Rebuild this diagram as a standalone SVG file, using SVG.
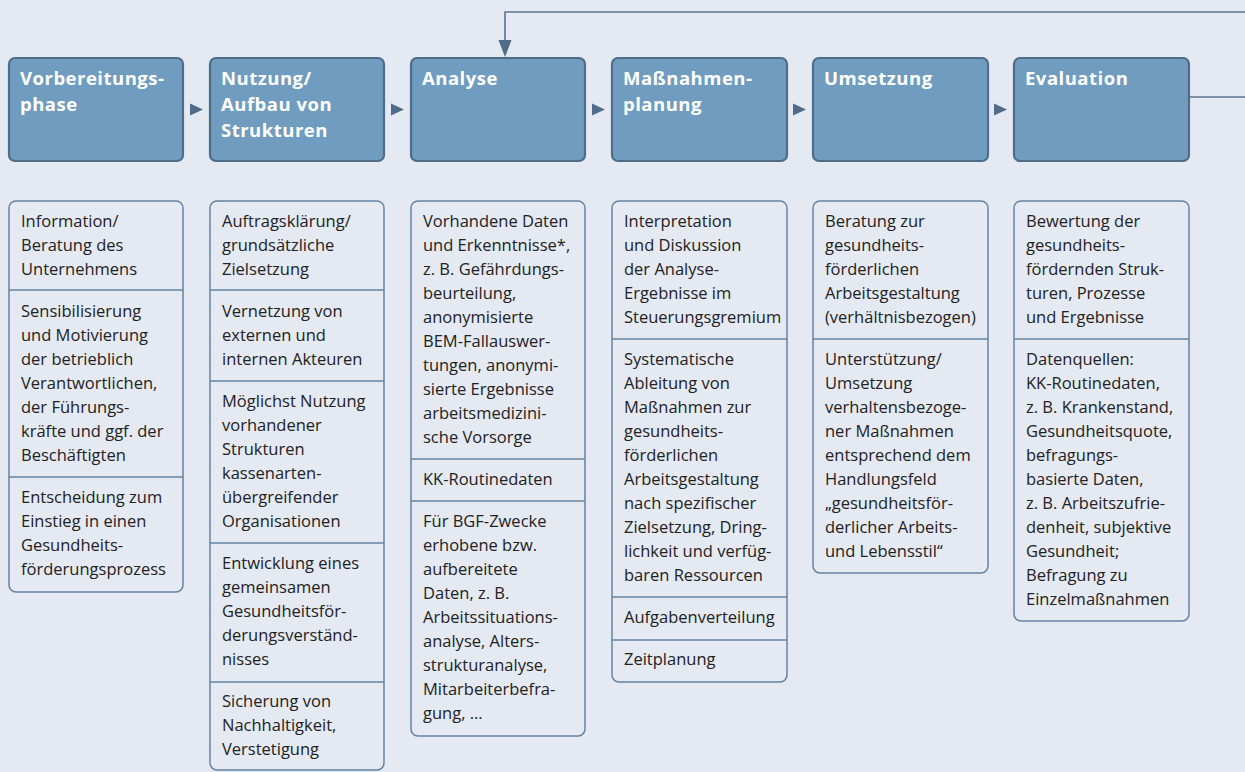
<svg xmlns="http://www.w3.org/2000/svg" width="1245" height="772" viewBox="0 0 1245 772">
<defs>
<style>
.bg{fill:#e4e9f2}
.hd{fill:#709cc0;stroke:#4f6d89;stroke-width:2.2}
.ht{font-family:"Open Sans","Noto Sans",sans-serif;font-weight:700;font-size:18.5px;letter-spacing:0.5px;fill:#ffffff}
.bx{fill:#e4e9f2;stroke:#6583a2;stroke-width:1.5}
.dv{stroke:#6583a2;stroke-width:1.5}
.tx{font-family:"Open Sans","Noto Sans",sans-serif;font-size:16.5px;fill:#222222}
.ar{fill:#4f6d89}
.cn{fill:none;stroke:#5a7592;stroke-width:1.6}
</style>
</defs>
<rect class="bg" x="0" y="0" width="1245" height="772"/>

<g id="connectors">
<polygon class="ar" points="190,103.5 203,109.5 190,115.5"/>
<polygon class="ar" points="391,103.5 404,109.5 391,115.5"/>
<polygon class="ar" points="592,103.5 605,109.5 592,115.5"/>
<polygon class="ar" points="793,103.5 806,109.5 793,115.5"/>
<polygon class="ar" points="994,103.5 1007,109.5 994,115.5"/>
<path class="cn" d="M1189,97 H1246"/>
<path class="cn" d="M1246,12 H505 V42"/>
<polygon class="ar" points="498.5,40 511.5,40 505,57"/>
</g>

<g id="phase1">
<rect class="hd" x="9" y="58" width="174" height="103" rx="6"/>
<text class="ht" x="20" y="85">Vorbereitungs-</text>
<text class="ht" x="20" y="111">phase</text>
</g>
<g id="phase2">
<rect class="hd" x="210" y="58" width="174" height="103" rx="6"/>
<text class="ht" x="221" y="85">Nutzung/</text>
<text class="ht" x="221" y="111">Aufbau von</text>
<text class="ht" x="221" y="137">Strukturen</text>
</g>
<g id="phase3">
<rect class="hd" x="411" y="58" width="174" height="103" rx="6"/>
<text class="ht" x="422" y="85">Analyse</text>
</g>
<g id="phase4">
<rect class="hd" x="612" y="58" width="175" height="103" rx="6"/>
<text class="ht" x="623" y="85">Maßnahmen-</text>
<text class="ht" x="623" y="111">planung</text>
</g>
<g id="phase5">
<rect class="hd" x="813" y="58" width="175" height="103" rx="6"/>
<text class="ht" x="824" y="85">Umsetzung</text>
</g>
<g id="phase6">
<rect class="hd" x="1014" y="58" width="175" height="103" rx="6"/>
<text class="ht" x="1025" y="85">Evaluation</text>
</g>

<g id="details1">
<rect class="bx" x="9" y="201" width="174" height="391" rx="7"/>
<line class="dv" x1="9" y1="290" x2="183" y2="290"/>
<line class="dv" x1="9" y1="477" x2="183" y2="477"/>
<text class="tx" x="21" y="227">Information/</text>
<text class="tx" x="21" y="251">Beratung des</text>
<text class="tx" x="21" y="275">Unternehmens</text>
<text class="tx" x="21" y="317">Sensibilisierung</text>
<text class="tx" x="21" y="341">und Motivierung</text>
<text class="tx" x="21" y="365">der betrieblich</text>
<text class="tx" x="21" y="389">Verantwortlichen,</text>
<text class="tx" x="21" y="413">der Führungs-</text>
<text class="tx" x="21" y="437">kräfte und ggf. der</text>
<text class="tx" x="21" y="461">Beschäftigten</text>
<text class="tx" x="21" y="503">Entscheidung zum</text>
<text class="tx" x="21" y="527">Einstieg in einen</text>
<text class="tx" x="21" y="551">Gesundheits-</text>
<text class="tx" x="21" y="575">förderungsprozess</text>
</g>

<g id="details2">
<rect class="bx" x="210" y="201" width="174" height="569" rx="7"/>
<line class="dv" x1="210" y1="290" x2="384" y2="290"/>
<line class="dv" x1="210" y1="381" x2="384" y2="381"/>
<line class="dv" x1="210" y1="543" x2="384" y2="543"/>
<line class="dv" x1="210" y1="682" x2="384" y2="682"/>
<text class="tx" x="222" y="227">Auftragsklärung/</text>
<text class="tx" x="222" y="251">grundsätzliche</text>
<text class="tx" x="222" y="275">Zielsetzung</text>
<text class="tx" x="222" y="317">Vernetzung von</text>
<text class="tx" x="222" y="341">externen und</text>
<text class="tx" x="222" y="365">internen Akteuren</text>
<text class="tx" x="222" y="407">Möglichst Nutzung</text>
<text class="tx" x="222" y="431">vorhandener</text>
<text class="tx" x="222" y="455">Strukturen</text>
<text class="tx" x="222" y="479">kassenarten-</text>
<text class="tx" x="222" y="503">übergreifender</text>
<text class="tx" x="222" y="527">Organisationen</text>
<text class="tx" x="222" y="569">Entwicklung eines</text>
<text class="tx" x="222" y="593">gemeinsamen</text>
<text class="tx" x="222" y="617">Gesundheitsför-</text>
<text class="tx" x="222" y="641">derungsverständ-</text>
<text class="tx" x="222" y="665">nisses</text>
<text class="tx" x="222" y="707">Sicherung von</text>
<text class="tx" x="222" y="731">Nachhaltigkeit,</text>
<text class="tx" x="222" y="755">Verstetigung</text>
</g>

<g id="details3">
<rect class="bx" x="411" y="201" width="174" height="535" rx="7"/>
<line class="dv" x1="411" y1="459" x2="585" y2="459"/>
<line class="dv" x1="411" y1="501" x2="585" y2="501"/>
<text class="tx" x="423" y="227">Vorhandene Daten</text>
<text class="tx" x="423" y="251">und Erkenntnisse*,</text>
<text class="tx" x="423" y="275">z. B. Gefährdungs-</text>
<text class="tx" x="423" y="299">beurteilung,</text>
<text class="tx" x="423" y="323">anonymisierte</text>
<text class="tx" x="423" y="347">BEM-Fallauswer-</text>
<text class="tx" x="423" y="371">tungen, anonymi-</text>
<text class="tx" x="423" y="395">sierte Ergebnisse</text>
<text class="tx" x="423" y="419">arbeitsmedizini-</text>
<text class="tx" x="423" y="443">sche Vorsorge</text>
<text class="tx" x="423" y="485">KK-Routinedaten</text>
<text class="tx" x="423" y="527">Für BGF-Zwecke</text>
<text class="tx" x="423" y="551">erhobene bzw.</text>
<text class="tx" x="423" y="575">aufbereitete</text>
<text class="tx" x="423" y="599">Daten, z. B.</text>
<text class="tx" x="423" y="623">Arbeitssituations-</text>
<text class="tx" x="423" y="647">analyse, Alters-</text>
<text class="tx" x="423" y="671">strukturanalyse,</text>
<text class="tx" x="423" y="695">Mitarbeiterbefra-</text>
<text class="tx" x="423" y="719">gung, …</text>
</g>

<g id="details4">
<rect class="bx" x="612" y="201" width="175" height="481" rx="7"/>
<line class="dv" x1="612" y1="339" x2="787" y2="339"/>
<line class="dv" x1="612" y1="597" x2="787" y2="597"/>
<line class="dv" x1="612" y1="640" x2="787" y2="640"/>
<text class="tx" x="624" y="227">Interpretation</text>
<text class="tx" x="624" y="251">und Diskussion</text>
<text class="tx" x="624" y="275">der Analyse-</text>
<text class="tx" x="624" y="299">Ergebnisse im</text>
<text class="tx" x="624" y="323">Steuerungsgremium</text>
<text class="tx" x="624" y="365">Systematische</text>
<text class="tx" x="624" y="389">Ableitung von</text>
<text class="tx" x="624" y="413">Maßnahmen zur</text>
<text class="tx" x="624" y="437">gesundheits-</text>
<text class="tx" x="624" y="461">förderlichen</text>
<text class="tx" x="624" y="485">Arbeitsgestaltung</text>
<text class="tx" x="624" y="509">nach spezifischer</text>
<text class="tx" x="624" y="533">Zielsetzung, Dring-</text>
<text class="tx" x="624" y="557">lichkeit und verfüg-</text>
<text class="tx" x="624" y="581">baren Ressourcen</text>
<text class="tx" x="624" y="623">Aufgabenverteilung</text>
<text class="tx" x="624" y="665">Zeitplanung</text>
</g>

<g id="details5">
<rect class="bx" x="813" y="201" width="175" height="372" rx="7"/>
<line class="dv" x1="813" y1="339" x2="988" y2="339"/>
<text class="tx" x="825" y="227">Beratung zur</text>
<text class="tx" x="825" y="251">gesundheits-</text>
<text class="tx" x="825" y="275">förderlichen</text>
<text class="tx" x="825" y="299">Arbeitsgestaltung</text>
<text class="tx" x="825" y="323">(verhältnisbezogen)</text>
<text class="tx" x="825" y="365">Unterstützung/</text>
<text class="tx" x="825" y="389">Umsetzung</text>
<text class="tx" x="825" y="413">verhaltensbezoge-</text>
<text class="tx" x="825" y="437">ner Maßnahmen</text>
<text class="tx" x="825" y="461">entsprechend dem</text>
<text class="tx" x="825" y="485">Handlungsfeld</text>
<text class="tx" x="825" y="509">„gesundheitsför-</text>
<text class="tx" x="825" y="533">derlicher Arbeits-</text>
<text class="tx" x="825" y="557">und Lebensstil“</text>
</g>

<g id="details6">
<rect class="bx" x="1014" y="201" width="175" height="420" rx="7"/>
<line class="dv" x1="1014" y1="339" x2="1189" y2="339"/>
<text class="tx" x="1026" y="227">Bewertung der</text>
<text class="tx" x="1026" y="251">gesundheits-</text>
<text class="tx" x="1026" y="275">fördernden Struk-</text>
<text class="tx" x="1026" y="299">turen, Prozesse</text>
<text class="tx" x="1026" y="323">und Ergebnisse</text>
<text class="tx" x="1026" y="365">Datenquellen:</text>
<text class="tx" x="1026" y="389">KK-Routinedaten,</text>
<text class="tx" x="1026" y="413">z. B. Krankenstand,</text>
<text class="tx" x="1026" y="437">Gesundheitsquote,</text>
<text class="tx" x="1026" y="461">befragungs-</text>
<text class="tx" x="1026" y="485">basierte Daten,</text>
<text class="tx" x="1026" y="509">z. B. Arbeitszufrie-</text>
<text class="tx" x="1026" y="533">denheit, subjektive</text>
<text class="tx" x="1026" y="557">Gesundheit;</text>
<text class="tx" x="1026" y="581">Befragung zu</text>
<text class="tx" x="1026" y="605">Einzelmaßnahmen</text>
</g>
</svg>
